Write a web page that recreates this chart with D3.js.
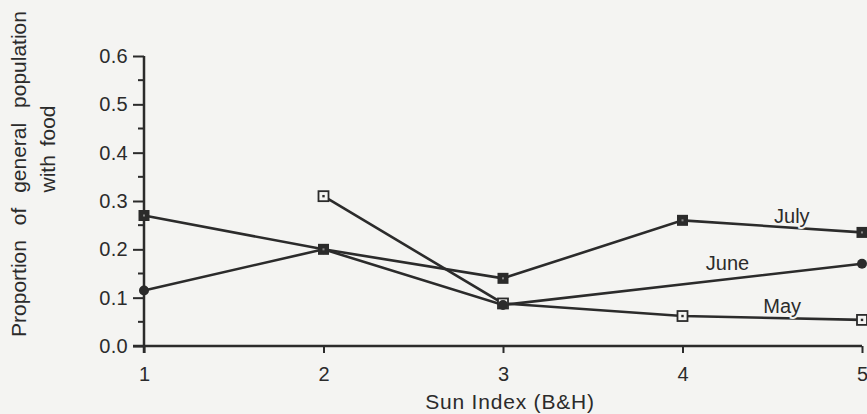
<!DOCTYPE html>
<html>
<head>
<meta charset="utf-8">
<script src="https://cdn.jsdelivr.net/npm/d3@7"></script>
<style>
  html, body { margin: 0; padding: 0; background: #f4f4f2; }
  svg { display: block; }
  text { font-family: "Liberation Sans", Arial, Helvetica, sans-serif; fill: #2b2b2b; }
</style>
</head>
<body>
<svg id="chart" width="867" height="414"></svg>
<script>
// ---- data ----
const sunIndex = [1, 2, 3, 4, 5];
const yTicks = [0.0, 0.1, 0.2, 0.3, 0.4, 0.5, 0.6];
const mayValues  = [null, 0.31, 0.088, 0.062, 0.054];
const juneValues = [0.115, 0.20, 0.085, null, 0.17];
const julyValues = [0.27, 0.20, 0.14, 0.26, 0.235];
const seriesNames = ["May", "June", "July"];
const xTitle = "Sun Index (B&H)";
const yTitle1 = "Proportion of general population";
const yTitle2 = "with food";

// ---- layout ----
const ink = "#2b2b2b";
const bg = "#f4f4f2";
const fs = "20px";
const svg = d3.select("#chart");
const x = d3.scaleLinear().domain([1, 5]).range([144, 862]);
const y = d3.scaleLinear().domain([0, 0.6]).range([346, 56]);

// y axis
const yAxis = d3.axisLeft(y).tickValues(yTicks).tickFormat(d3.format(".1f")).tickSize(11).tickPadding(5);
const gy = svg.append("g").attr("transform", `translate(${x(1)},0)`).call(yAxis);
gy.select(".domain").remove();
gy.selectAll("line").attr("stroke", ink).attr("stroke-width", 2);
gy.selectAll("text").style("font-size", fs).style("letter-spacing", "0.3px").attr("fill", ink);
// minor ticks
const minor = d3.range(0.05, 0.6, 0.1);
svg.append("g").selectAll("line").data(minor).join("line")
  .attr("x1", x(1) - 6).attr("x2", x(1) + 1)
  .attr("y1", d => y(d)).attr("y2", d => y(d))
  .attr("stroke", ink).attr("stroke-width", 2);
svg.append("line").attr("x1", x(1)).attr("x2", x(1))
  .attr("y1", y(0.6)).attr("y2", y(0) + 7)
  .attr("stroke", ink).attr("stroke-width", 2.5);

// x axis
const xAxis = d3.axisBottom(x).tickValues(sunIndex).tickFormat(d3.format("d")).tickSize(7).tickPadding(14);
const gx = svg.append("g").attr("transform", `translate(0,${y(0)})`).call(xAxis);
gx.select(".domain").remove();
gx.selectAll("line").attr("stroke", ink).attr("stroke-width", 2);
gx.selectAll("text").style("font-size", fs).attr("fill", ink);
svg.append("line").attr("x1", x(1) - 11).attr("x2", x(5))
  .attr("y1", y(0)).attr("y2", y(0))
  .attr("stroke", ink).attr("stroke-width", 2.5);

// titles
svg.append("text").attr("x", 510).attr("y", 409)
  .attr("text-anchor", "middle").style("font-size", "21px").style("letter-spacing", "0.8px").text(xTitle);
svg.append("text").attr("transform", "translate(26,174) rotate(-90)")
  .attr("text-anchor", "middle").style("font-size", "21px").style("word-spacing", "9px").text(yTitle1);
svg.append("text").attr("transform", "translate(55,149) rotate(-90)")
  .attr("text-anchor", "middle").style("font-size", "21px").style("word-spacing", "3px").text(yTitle2);

// series
const allSeries = [mayValues, juneValues, julyValues].map((vals, i) => ({
  name: seriesNames[i],
  pts: sunIndex.map((s, j) => ({ s, v: vals[j] })).filter(p => p.v !== null)
}));
const line = d3.line().x(p => x(p.s)).y(p => y(p.v));
svg.append("g").selectAll("path").data(allSeries).join("path")
  .attr("d", d => line(d.pts)).attr("fill", "none")
  .attr("stroke", ink).attr("stroke-width", 2.6);

// markers
const mk = svg.append("g");
const may = allSeries[0], june = allSeries[1], july = allSeries[2];
mk.selectAll(".may").data(may.pts).join("rect").attr("class", "may")
  .attr("x", p => x(p.s) - 5).attr("y", p => y(p.v) - 5).attr("width", 10).attr("height", 10)
  .attr("fill", bg).attr("stroke", ink).attr("stroke-width", 1.8);
mk.selectAll(".mayd").data(may.pts).join("rect").attr("class", "mayd")
  .attr("x", p => x(p.s) - 1.2).attr("y", p => y(p.v) - 1.2).attr("width", 2.4).attr("height", 2.4)
  .attr("fill", ink);
mk.selectAll(".june").data(june.pts).join("circle").attr("class", "june")
  .attr("cx", p => x(p.s)).attr("cy", p => y(p.v)).attr("r", 5).attr("fill", ink);
mk.selectAll(".july").data(july.pts).join("rect").attr("class", "july")
  .attr("x", p => x(p.s) - 5.5).attr("y", p => y(p.v) - 5.5).attr("width", 11).attr("height", 11)
  .attr("fill", ink);
mk.selectAll(".julyd").data(july.pts).join("rect").attr("class", "julyd")
  .attr("x", p => x(p.s) - 1).attr("y", p => y(p.v) - 1).attr("width", 2).attr("height", 2)
  .attr("fill", "#888");

// series labels with halo to break the lines
const labelPos = [
  { name: "July", s: 4.51, v: 0.255 },
  { name: "June", s: 4.13, v: 0.158 },
  { name: "May", s: 4.45, v: 0.069 }
];
svg.append("g").selectAll("text").data(labelPos).join("text")
  .attr("x", d => x(d.s)).attr("y", d => y(d.v))
  .style("font-size", fs)
  .attr("stroke", bg).attr("stroke-width", 4).attr("paint-order", "stroke")
  .text(d => d.name);
</script>
</body>
</html>
